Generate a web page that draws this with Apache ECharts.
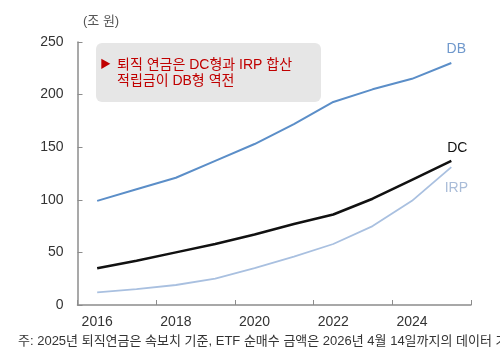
<!DOCTYPE html>
<html>
<head>
<meta charset="utf-8">
<script src="https://cdn.jsdelivr.net/npm/echarts@6/dist/echarts.min.js"></script>
<style>
    html, body { margin: 0; padding: 0; background: #ffffff; }
    #chart { width: 500px; height: 351px; }
</style>
</head>
<body>
<div id="chart"></div>
<script>
const years = ['2016', '2017', '2018', '2019', '2020', '2021', '2022', '2023', '2024', '2025'];
const dbValues = [99, 110, 121, 137, 153, 172, 193, 205, 215, 230];
const dcValues = [35, 42, 50, 58, 67, 77, 86, 101, 119, 137];
const irpValues = [12, 15, 19, 25, 35, 46, 58, 75, 99, 131];
const yTicks = [0, 50, 100, 150, 200, 250];

const FONT = "'Liberation Sans', 'Noto Sans CJK KR', sans-serif";

function lineSeries(name, data, color, width, labelColor, labelOffset) {
    return {
        name: name,
        type: 'line',
        data: data,
        symbol: 'none',
        lineStyle: { color: color, width: width },
        endLabel: {
            show: true,
            formatter: '{a}',
            align: 'center',
            verticalAlign: 'middle',
            distance: 0,
            offset: labelOffset,
            color: labelColor,
            fontFamily: FONT,
            fontSize: 14
        },
        emphasis: { disabled: true }
    };
}

const chart = echarts.init(document.getElementById('chart'));
const option = {
    backgroundColor: '#ffffff',
    animation: false,
    grid: { left: 77.5, right: 29, top: 42, bottom: 46 },
    xAxis: {
        type: 'category',
        data: years,
        boundaryGap: true,
        axisLine: { lineStyle: { color: '#8c8c8c', width: 1.5 } },
        axisTick: { show: true, inside: true, interval: 1, length: 5, lineStyle: { color: '#8c8c8c' } },
        axisLabel: { interval: 1, margin: 10, color: '#333333', fontFamily: FONT, fontSize: 14 },
        splitLine: { show: false }
    },
    yAxis: {
        type: 'value',
        min: yTicks[0],
        max: yTicks[yTicks.length - 1],
        interval: 50,
        axisLine: { show: true, lineStyle: { color: '#8c8c8c', width: 1.5 } },
        axisTick: { show: true, inside: true, length: 5, lineStyle: { color: '#8c8c8c' } },
        axisLabel: { margin: 14, color: '#333333', fontFamily: FONT, fontSize: 14 },
        splitLine: { show: false }
    },
    series: [
        lineSeries('DB', dbValues, '#5b8ec8', 2, '#6f98cc', [5, -14]),
        lineSeries('DC', dcValues, '#111111', 2.5, '#111111', [6, -13]),
        lineSeries('IRP', irpValues, '#a9c0e0', 1.8, '#a9bcd8', [5, 21])
    ],
    graphic: [
        {
            type: 'text', left: 83, top: 15,
            style: { text: '(조 원)', fill: '#555555', fontFamily: FONT, fontSize: 13 }
        },
        {
            type: 'rect', left: 96, top: 43, z: 0,
            shape: { width: 225, height: 59, r: 6 },
            style: { fill: '#e6e6e6' }
        },
        {
            type: 'text', left: 100, top: 59, z: 1,
            style: { text: '▶', fill: '#c00000', fontFamily: FONT, fontSize: 11 }
        },
        {
            type: 'text', left: 117, top: 57, z: 1,
            style: {
                text: '퇴직 연금은 DC형과 IRP 합산\n적립금이 DB형 역전',
                fill: '#c00000', fontFamily: FONT, fontSize: 14, lineHeight: 16
            }
        },
        {
            type: 'text', left: 18, top: 335,
            style: {
                text: '주: 2025년 퇴직연금은 속보치 기준, ETF 순매수 금액은 2026년 4월 14일까지의 데이터 기준',
                fill: '#333333', fontFamily: FONT, fontSize: 13
            }
        }
    ]
};
chart.setOption(option);
</script>
</body>
</html>
